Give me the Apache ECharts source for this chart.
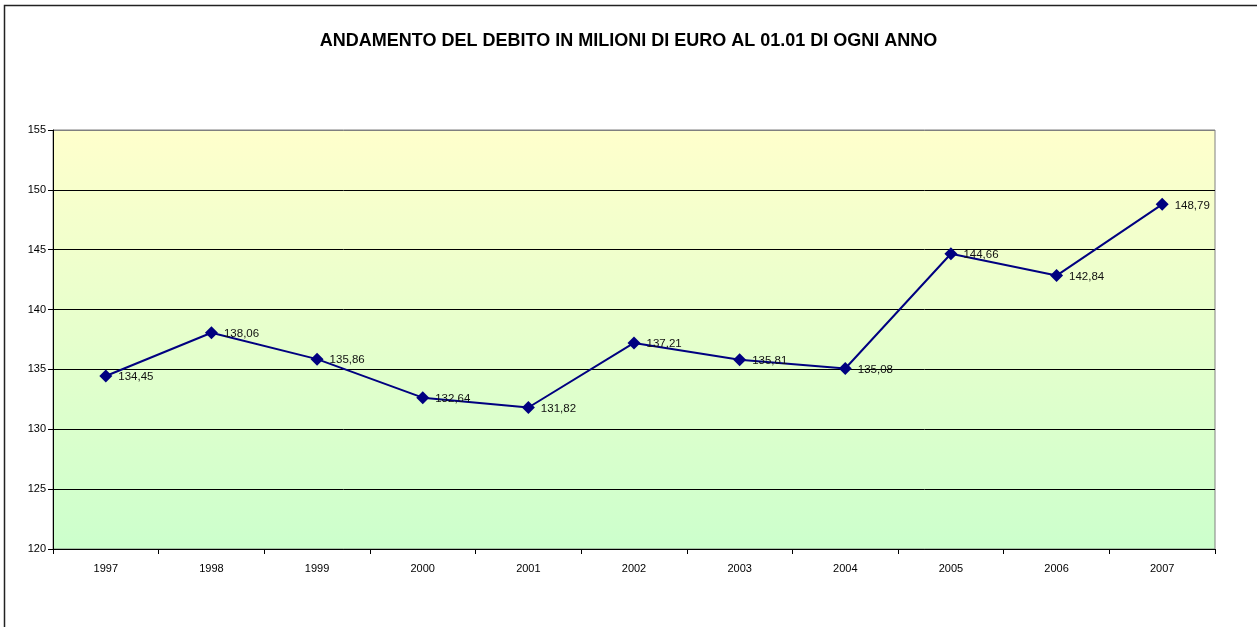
<!DOCTYPE html>
<html>
<head>
<meta charset="utf-8">
<script src="https://cdn.jsdelivr.net/npm/echarts@6/dist/echarts.min.js"></script>
<style>
  html, body { margin: 0; padding: 0; background: #fff; }
  #chart { width: 1257px; height: 627px; }
</style>
</head>
<body>
<div id="chart"></div>
<script>
// anni e debito (milioni di euro)
const years = ['1997', '1998', '1999', '2000', '2001', '2002', '2003', '2004', '2005', '2006', '2007']
const debito = [134.45, 138.06, 135.86, 132.64, 131.82, 137.21, 135.81, 135.08, 144.66, 142.84, 148.79]
const yMin = 120
const yMax = 155
const yStep = 5

const chart = echarts.init(document.getElementById('chart'))

const option = {
  animation: false,
  textStyle: { fontFamily: 'Liberation Sans, Arial, sans-serif' },
  title: {
    text: 'ANDAMENTO DEL DEBITO IN MILIONI DI EURO AL 01.01 DI OGNI ANNO',
    left: 'center',
    top: 27,
    textStyle: { fontSize: 18, fontWeight: 'bold', color: '#000' }
  },
  graphic: [
    {
      type: 'rect',
      shape: { x: 4.5, y: 5.5, width: 1300, height: 700 },
      style: { fill: null, stroke: '#222', lineWidth: 1.5 },
      silent: true
    }
  ],
  grid: {
    left: 53, right: 42, top: 130, bottom: 78,
    show: true,
    borderColor: '#808080',
    borderWidth: 1,
    backgroundColor: {
      type: 'linear', x: 0, y: 0, x2: 0, y2: 1,
      colorStops: [
        { offset: 0, color: '#FFFFCC' },
        { offset: 1, color: '#CCFFCC' }
      ]
    }
  },
  xAxis: {
    type: 'category',
    data: years,
    boundaryGap: true,
    axisLine: { lineStyle: { color: '#000', width: 1 } },
    axisTick: { show: true, length: 5, lineStyle: { color: '#000' } },
    axisLabel: { color: '#000', fontSize: 11, margin: 14 },
    splitLine: { show: false }
  },
  yAxis: {
    type: 'value',
    min: yMin,
    max: yMax,
    interval: yStep,
    axisLine: { show: true, lineStyle: { color: '#000', width: 1 } },
    axisTick: { show: true, length: 5, lineStyle: { color: '#000' } },
    axisLabel: { color: '#000', fontSize: 11, margin: 7 },
    splitLine: {
      show: true,
      lineStyle: { color: ['#000', '#000', '#000', '#000', '#000', '#000', '#000', '#808080'], width: 1 }
    }
  },
  series: [
    {
      type: 'line',
      data: debito,
      symbol: 'diamond',
      symbolSize: 13,
      lineStyle: { color: '#000080', width: 2 },
      itemStyle: { color: '#000080' },
      label: {
        show: true,
        position: 'right',
        distance: 6,
        offset: [0, 1],
        color: '#111',
        fontSize: 11.5,
        formatter: p => p.value.toFixed(2).replace('.', ',')
      }
    }
  ]
}

chart.setOption(option)
</script>
</body>
</html>
